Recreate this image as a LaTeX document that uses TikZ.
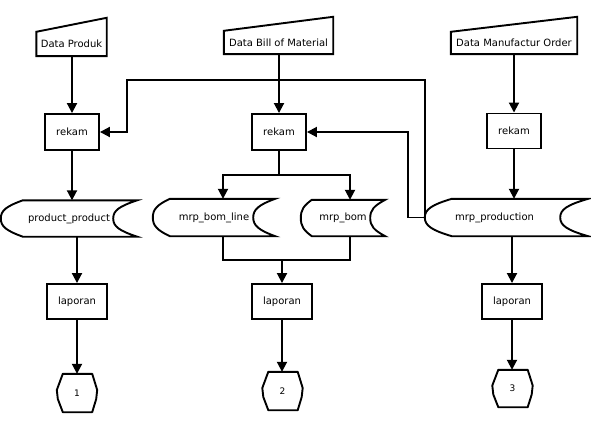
\documentclass[tikz,border=0pt]{standalone}
\usepackage{fontspec}
\setmainfont{DejaVu Sans}
\usetikzlibrary{arrows.meta,calc}
\newcommand\storedraw[3]{%
  \draw[lw] ($(#1.north west)+(#2,0)$) -- (#1.north east)
    .. controls ($(#1.north east)+(-0.75*#3,6)$) and ($(#1.east)+(-#3,-8)$) .. ($(#1.east)+(-#3,0)$)
    .. controls ($(#1.east)+(-#3,8)$) and ($(#1.south east)+(-0.75*#3,-6)$) .. (#1.south east)
    -- ($(#1.south west)+(#2,0)$)
    .. controls ($(#1.south west)+(0.25*#2,-6)$) and ($(#1.west)+(0,8)$) .. (#1.west)
    .. controls ($(#1.west)+(0,-8)$) and ($(#1.north west)+(0.25*#2,6)$) .. cycle;}
\newcommand\manualdraw[2]{%
  \draw[lw] (#1.north west) -- ($(#1.north east)+(0,-#2)$) -- (#1.south east) -- (#1.south west) -- cycle;}
\newcommand\hexdraw[1]{%
  \draw[lw,line join=round] ($(#1.north west)+(6,0)$) -- ($(#1.north east)+(-5,0)$)
    -- ($(#1.east)+(0,-3)$) -- ($(#1.east)+(-1,6)$) -- ($(#1.south east)+(-5,0)$)
    -- ($(#1.south west)+(6,0)$)
    -- ($(#1.west)+(1,6)$) -- ($(#1.west)+(0,-3)$) -- cycle;}
\begin{document}
\begin{tikzpicture}[x=1pt,y=-1pt,
  lw/.style={line width=1.9pt},
  arr/.style={lw,-{Triangle[length=10pt,width=10pt]}},
  txt/.style={inner sep=0pt,font=\fontsize{10}{12}\selectfont},
  plain/.style={txt,minimum width=#1},
  boxnode/.style={txt,draw,lw,minimum width=#1,minimum height=36},
  hexnode/.style={inner sep=0pt,minimum width=40,minimum height=38,font=\fontsize{9}{11}\selectfont}]
\fill[white] (0,0) rectangle (591,436);
\useasboundingbox (0,0) rectangle (591,436);

% manual inputs
\node[plain=70,minimum height=24] (dp) at (71.5,44) {Data Produk};
\node[plain=109,minimum height=23] (dbom) at (278.5,42.5) {Data Bill of Material};
\node[plain=126,minimum height=22] (dmo) at (514,43) {Data Manufactur Order};
\manualdraw{dp}{14}
\manualdraw{dbom}{14}
\manualdraw{dmo}{15}

% process boxes
\node[boxnode=54] (r1) at (72,132) {rekam};
\node[boxnode=54] (r2) at (279,132) {rekam};
\node[boxnode=54,minimum height=35] (r3) at (514,131) {rekam};

% stored data
\node[plain=136,minimum height=36] (pp) at (69,218.5) {product\_product};
\node[plain=122,minimum height=37] (bl) at (214,217.5) {mrp\_bom\_line};
\node[plain=84,minimum height=36] (bom) at (343,218) {mrp\_bom};
\node[plain=163,minimum height=37] (mp) at (506.5,217.5) {mrp\_production\rule{24pt}{0pt}};
\storedraw{pp}{22}{24}
\storedraw{bl}{17}{22}
\storedraw{bom}{11}{15}
\storedraw{mp}{27}{28}

% reports
\node[boxnode=60,minimum height=35] (l1) at (77,301.5) {laporan};
\node[boxnode=60,minimum height=35] (l2) at (282,301.5) {laporan};
\node[boxnode=60,minimum height=35] (l3) at (512,301.5) {laporan};

% off-page connectors
\node[hexnode] (h1) at (77,393) {1};
\node[hexnode,minimum height=38] (h2) at (282.5,391) {2};
\node[hexnode,minimum height=37] (h3) at (512.5,388.5) {3};
\hexdraw{h1}
\hexdraw{h2}
\hexdraw{h3}

% flow lines
\draw[arr] (dp.south -| r1.north) -- (r1.north);
\draw[arr] (r1.south) -- (r1.south |- pp.north);
\draw[arr] (l1.north |- pp.south) -- (l1.north);
\draw[arr] (l1.south) -- (h1.north);

\draw[arr] (dbom.south -| r2.north) -- (r2.north);
\coordinate (j1) at (279,175);
\draw[lw] (r2.south) -- (j1);
\draw[arr] (j1) -| ($(bl.north)+(9,0)$);
\draw[arr] (j1) -| ($(bom.north)+(7,0)$);
\coordinate (j2) at (282,260);
\draw[lw] ($(bl.south)+(9,0)$) |- (j2) -| ($(bom.south)+(7,0)$);
\draw[arr] (j2) -- (l2.north);
\draw[arr] (l2.south) -- (h2.north -| l2.south);

\draw[arr] (dmo.south -| r3.north) -- (r3.north);
\draw[arr] (r3.south) -- (r3.south |- mp.north);
\draw[arr] (l3.north |- mp.south) -- (l3.north);
\draw[arr] (l3.south) -- (h3.north -| l3.south);

% feedback lines
\coordinate (fa) at (127,80);
\draw[arr] (mp.west) |- (fa) |- (r1.east);
\coordinate (fb) at (408,132);
\draw[arr] (mp.west) -| (fb) -- (r2.east);
\end{tikzpicture}
\end{document}
